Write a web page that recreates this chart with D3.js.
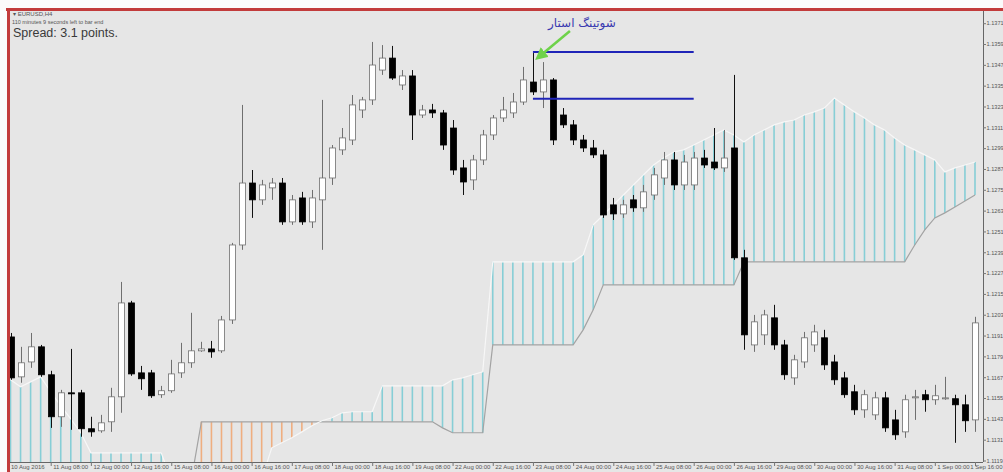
<!DOCTYPE html>
<html>
<head>
<meta charset="utf-8">
<script src="https://cdn.jsdelivr.net/npm/d3@7/dist/d3.min.js"></script>
<style>
  body { margin: 0; background: #fbfbfb; }
  svg { display: block; }
</style>
</head>
<body>
<svg id="chart" width="1003" height="472"></svg>
<script>
// EURUSD H4, 10 Aug - 1 Sep 2016, one entry per bar (97 bars)
const opens  = [1.11902,1.11672,1.11758,1.11845,1.11684,1.11442,1.11580,1.11580,1.11373,1.11361,1.11413,1.11557,1.12098,1.11695,1.11695,1.11569,1.11592,1.11695,1.11753,1.11822,1.11833,1.11822,1.12000,1.12432,1.12789,1.12692,1.12761,1.12789,1.12565,1.12703,1.12565,1.12692,1.12818,1.12980,1.13037,1.13210,1.13268,1.13440,1.13509,1.13354,1.13406,1.13181,1.13210,1.13193,1.13106,1.12876,1.12807,1.12922,1.13066,1.13164,1.13193,1.13256,1.13371,1.13314,1.13383,1.13181,1.13124,1.13037,1.12991,1.12951,1.12663,1.12611,1.12692,1.12646,1.12720,1.12818,1.12922,1.12778,1.12778,1.12933,1.12910,1.12876,1.12991,1.12358,1.11856,1.11914,1.12012,1.11856,1.11666,1.11758,1.11856,1.11897,1.11758,1.11666,1.11586,1.11482,1.11453,1.11551,1.11424,1.11355,1.11551,1.11569,1.11540,1.11546,1.11546,1.11511,1.11424];
const highs  = [1.11925,1.11845,1.11925,1.11856,1.11707,1.11597,1.11833,1.11597,1.11442,1.11453,1.11609,1.12219,1.12110,1.11735,1.11712,1.11620,1.11770,1.11868,1.12041,1.11874,1.11879,1.12023,1.12444,1.13239,1.12864,1.12807,1.12818,1.12818,1.12720,1.12738,1.12749,1.13268,1.13008,1.13106,1.13296,1.13285,1.13602,1.13584,1.13579,1.13440,1.13440,1.13239,1.13245,1.13210,1.13152,1.12922,1.12951,1.13095,1.13181,1.13285,1.13308,1.13458,1.13538,1.13486,1.13394,1.13221,1.13152,1.13066,1.13037,1.12980,1.12703,1.12692,1.12720,1.12778,1.12876,1.12968,1.12968,1.12951,1.12968,1.12980,1.13106,1.13095,1.13412,1.12404,1.12029,1.12058,1.12087,1.11885,1.11799,1.11931,1.11972,1.11943,1.11799,1.11701,1.11626,1.11597,1.11586,1.11586,1.11482,1.11569,1.11597,1.11597,1.11626,1.11672,1.11569,1.11569,1.12018];
const lows   = [1.11655,1.11638,1.11724,1.11672,1.11378,1.11384,1.11367,1.11327,1.11327,1.11350,1.11355,1.11465,1.11678,1.11597,1.11551,1.11551,1.11580,1.11666,1.11724,1.11816,1.11782,1.11810,1.11977,1.12404,1.12588,1.12663,1.12692,1.12548,1.12548,1.12548,1.12530,1.12404,1.12778,1.12951,1.13008,1.13164,1.13239,1.13412,1.13383,1.13325,1.13037,1.13164,1.13164,1.12980,1.12836,1.12720,1.12749,1.12893,1.13037,1.13141,1.13164,1.13239,1.13296,1.13221,1.13008,1.13106,1.13008,1.12968,1.12933,1.12588,1.12576,1.12588,1.12623,1.12623,1.12692,1.12778,1.12749,1.12749,1.12749,1.12876,1.12864,1.12853,1.12346,1.11828,1.11816,1.11856,1.11828,1.11655,1.11626,1.11724,1.11816,1.11712,1.11626,1.11551,1.11453,1.11436,1.11424,1.11355,1.11309,1.11321,1.11424,1.11471,1.11511,1.11540,1.11292,1.11355,1.11355];
const closes = [1.11666,1.11753,1.11845,1.11684,1.11442,1.11580,1.11574,1.11373,1.11355,1.11407,1.11557,1.12098,1.11689,1.11661,1.11563,1.11592,1.11689,1.11753,1.11822,1.11833,1.11816,1.12000,1.12432,1.12789,1.12692,1.12778,1.12789,1.12565,1.12692,1.12565,1.12703,1.12818,1.12991,1.13049,1.13239,1.13268,1.13469,1.13509,1.13394,1.13406,1.13181,1.13210,1.13193,1.13008,1.12864,1.12795,1.12922,1.13066,1.13164,1.13210,1.13256,1.13383,1.13314,1.13383,1.13037,1.13124,1.13037,1.12991,1.12951,1.12605,1.12611,1.12663,1.12646,1.12738,1.12836,1.12922,1.12778,1.12910,1.12933,1.12893,1.12876,1.12933,1.12358,1.11914,1.11989,1.12029,1.11856,1.11684,1.11770,1.11897,1.11931,1.11741,1.11655,1.11569,1.11482,1.11569,1.11551,1.11378,1.11338,1.11540,1.11557,1.11540,1.11563,1.11551,1.11511,1.11419,1.11983];

// Ichimoku cloud, Senkou Span A and B at each bar
const spanA = [1.11655,1.11615,1.11643,1.11672,1.11586,1.11505,1.11430,1.11350,1.11234,1.11234,1.11234,1.11234,1.11234,1.11234,1.11234,1.11234,1.11079,1.11079,1.11079,1.11079,1.11079,1.11079,1.11079,1.11079,1.11079,1.11079,1.11263,1.11292,1.11321,1.11355,1.11390,1.11419,1.11436,1.11465,1.11471,1.11471,1.11471,1.11620,1.11620,1.11620,1.11620,1.11620,1.11620,1.11620,1.11655,1.11666,1.11684,1.11701,1.12335,1.12335,1.12335,1.12335,1.12335,1.12335,1.12335,1.12335,1.12335,1.12375,1.12548,1.12605,1.12663,1.12720,1.12778,1.12836,1.12893,1.12933,1.12968,1.12980,1.13008,1.13037,1.13066,1.13095,1.13066,1.13026,1.13066,1.13095,1.13124,1.13141,1.13152,1.13181,1.13199,1.13221,1.13279,1.13239,1.13199,1.13164,1.13124,1.13095,1.13049,1.13008,1.12980,1.12951,1.12922,1.12853,1.12876,1.12893,1.12910];
const spanB = [1.11079,1.11079,1.11079,1.11079,1.11079,1.11079,1.11079,1.11079,1.11079,1.11079,1.11079,1.11079,1.11079,1.11079,1.11079,1.11079,1.11079,1.11079,1.11079,1.11413,1.11413,1.11413,1.11413,1.11413,1.11413,1.11413,1.11413,1.11413,1.11413,1.11413,1.11413,1.11413,1.11413,1.11413,1.11413,1.11413,1.11413,1.11413,1.11413,1.11413,1.11413,1.11413,1.11413,1.11378,1.11350,1.11350,1.11350,1.11350,1.11856,1.11856,1.11856,1.11856,1.11856,1.11856,1.11856,1.11856,1.11856,1.11943,1.12058,1.12202,1.12202,1.12202,1.12202,1.12202,1.12202,1.12202,1.12202,1.12202,1.12202,1.12202,1.12202,1.12202,1.12202,1.12335,1.12335,1.12335,1.12335,1.12335,1.12335,1.12335,1.12335,1.12335,1.12335,1.12335,1.12335,1.12335,1.12335,1.12335,1.12335,1.12335,1.12432,1.12519,1.12588,1.12617,1.12651,1.12686,1.12720];

// time axis: first label at left edge, then one every 4 bars starting at bar 4
const firstLabel = "10 Aug 2016";
const timeLabels = ["11 Aug 08:00","12 Aug 00:00","12 Aug 16:00","15 Aug 08:00","16 Aug 00:00","16 Aug 16:00","17 Aug 08:00","18 Aug 00:00","18 Aug 16:00","19 Aug 08:00","22 Aug 00:00","22 Aug 16:00","23 Aug 08:00","24 Aug 00:00","24 Aug 16:00","25 Aug 08:00","26 Aug 00:00","26 Aug 16:00","29 Aug 08:00","30 Aug 00:00","30 Aug 16:00","31 Aug 08:00","1 Sep 00:00","1 Sep 16:00"];
const priceTicks = [1.13710,1.13590,1.13470,1.13350,1.13230,1.13110,1.12990,1.12870,1.12750,1.12630,1.12510,1.12390,1.12270,1.12150,1.12030,1.11910,1.11790,1.11670,1.11550,1.11430,1.11310,1.11190];

// shooting star levels (high and body) drawn from the star bar
const starBar = 52, levelsEnd = 68;
const levels = [1.13544, 1.13274];
const starLabel = "شوتینگ استار";

const W = 1003, H = 472;
const plot = {left: 10, right: 983, top: 11, bottom: 462};

const svg = d3.select("#chart");

const x = d3.scaleLinear().domain([0, 96]).range([10.5, 975]);
const y = d3.scaleLinear().domain([1.11190, 1.13710]).range([460.5, 23.2]);

// backgrounds and frame
svg.append("rect").attr("x", 8).attr("y", 9).attr("width", W - 8).attr("height", H - 9).attr("fill", "#e6e6e6");

svg.append("clipPath").attr("id", "clip")
  .append("rect")
    .attr("x", plot.left).attr("y", plot.top)
    .attr("width", plot.right - plot.left).attr("height", plot.bottom - plot.top);

const g = svg.append("g").attr("clip-path", "url(#clip)");

let bars = d3.range(opens.length);

// cloud hatches
g.selectAll("line.hatch")
  .data(bars)
  .enter()
  .append("line")
    .attr("class", "hatch")
    .attr("x1", d => x(d)).attr("x2", d => x(d))
    .attr("y1", d => y(spanA[d]))
    .attr("y2", d => y(spanB[d]))
    .attr("stroke", d => spanA[d] >= spanB[d] ? "#86ced6" : "#efae80")
    .attr("stroke-width", 1.6);

let lineB = d3.line().x((d, i) => x(i)).y(d => y(d));
g.append("path").attr("d", lineB(spanB)).attr("fill", "none").attr("stroke", "#a3a3a3").attr("stroke-width", 1.2);
g.append("path").attr("d", lineB(spanA)).attr("fill", "none").attr("stroke", "#f7f7f7").attr("stroke-width", 1.2);

// candles
let candle = g.selectAll("g.candle")
  .data(bars)
  .enter()
  .append("g")
    .attr("class", "candle");

candle.append("line")
  .attr("x1", d => Math.round(x(d)) + 0.5).attr("x2", d => Math.round(x(d)) + 0.5)
  .attr("y1", d => y(highs[d])).attr("y2", d => y(lows[d]))
  .attr("stroke", d => closes[d] >= opens[d] ? "#6f6f6f" : "#111")
  .attr("stroke-width", 1);

candle.append("rect")
  .attr("x", d => Math.round(x(d)) - 2.5)
  .attr("width", 6)
  .attr("y", d => y(Math.max(opens[d], closes[d])))
  .attr("height", d => Math.max(1, Math.abs(y(opens[d]) - y(closes[d]))))
  .attr("fill", d => closes[d] >= opens[d] ? "#ffffff" : "#000000")
  .attr("stroke", d => closes[d] >= opens[d] ? "#6f6f6f" : "#000000")
  .attr("stroke-width", 0.8);

// horizontal levels
g.selectAll("line.level")
  .data(levels)
  .enter()
  .append("line")
    .attr("class", "level")
    .attr("x1", x(starBar)).attr("x2", x(levelsEnd))
    .attr("y1", d => y(d)).attr("y2", d => y(d))
    .attr("stroke", "#1f24b8")
    .attr("stroke-width", 2);

// annotation
let ax = x(starBar), ay = y(highs[starBar]);
svg.append("defs").append("marker")
  .attr("id", "arr").attr("viewBox", "0 0 10 10").attr("refX", 5).attr("refY", 5)
  .attr("markerWidth", 5).attr("markerHeight", 5).attr("orient", "auto")
  .append("path").attr("d", "M0,0 L10,5 L0,10 z").attr("fill", "#6ed24a");
svg.append("line")
  .attr("x1", ax + 37).attr("y1", ay - 22)
  .attr("x2", ax + 7).attr("y2", ay + 3)
  .attr("stroke", "#6ed24a").attr("stroke-width", 2.5)
  .attr("marker-end", "url(#arr)");
svg.append("text")
  .attr("x", ax + 49).attr("y", 27)
  .attr("text-anchor", "middle")
  .style("font-family", "DejaVu Sans")
  .style("font-size", "12px")
  .attr("fill", "#3a3ab0")
  .text(starLabel);

// axes
let axisY = d3.axisRight(y).tickValues(priceTicks).tickFormat(d3.format(".4f")).tickSize(3);
let gy = svg.append("g").attr("transform", `translate(${plot.right},0)`).call(axisY);
gy.select(".domain").attr("d", `M0.5,${plot.top}V${plot.bottom}`).attr("stroke", "#666");
gy.selectAll(".tick line").attr("stroke", "#777");
gy.selectAll(".tick text").attr("x", 3.5).attr("fill", "#555")
  .style("font-family", "Liberation Sans").style("font-size", "5.6px");

let tickBars = timeLabels.map((d, i) => 4 + 4 * i);
let axisX = d3.axisBottom(x).tickValues(tickBars).tickFormat((d, i) => timeLabels[i]).tickSize(4);
let gx = svg.append("g").attr("transform", `translate(0,${plot.bottom})`).call(axisX);
gx.select(".domain").attr("d", `M${plot.left},0.5H${plot.right}`).attr("stroke", "#666");
gx.selectAll(".tick line").attr("stroke", "#777");
gx.selectAll(".tick text").attr("y", 3).attr("x", 2).attr("dy", "0.71em")
  .attr("text-anchor", "start").attr("fill", "#555")
  .style("font-family", "Liberation Sans").style("font-size", "6px");
// last label kept inside the picture
gx.selectAll(".tick text").filter((d, i) => i === timeLabels.length - 1)
  .attr("text-anchor", "end").attr("x", W - 1 - x(tickBars[tickBars.length - 1]));
gx.append("text").attr("x", 11).attr("y", 3).attr("dy", "0.71em")
  .attr("text-anchor", "start")
  .attr("fill", "#555").style("font-family", "Liberation Sans").style("font-size", "6px")
  .text(firstLabel);

// header texts
svg.append("text").attr("x", 13).attr("y", 16).attr("fill", "#555")
  .style("font-family", "Liberation Sans").style("font-size", "6px").text("▾ EURUSD,H4");
svg.append("text").attr("x", 12).attr("y", 24).attr("fill", "#555")
  .style("font-family", "Liberation Sans").style("font-size", "5.5px").text("110 minutes 9 seconds left to bar end");
svg.append("text").attr("x", 13).attr("y", 37).attr("fill", "#3a3a3a")
  .style("font-family", "Liberation Sans").style("font-size", "12.5px").text("Spread: 3.1 points.");

// red frame
svg.append("line").attr("x1", 6).attr("x2", W).attr("y1", 9.5).attr("y2", 9.5).attr("stroke", "#c23b3b").attr("stroke-width", 3);
svg.append("line").attr("x1", 8.5).attr("x2", 8.5).attr("y1", 8).attr("y2", H).attr("stroke", "#c23b3b").attr("stroke-width", 3);
</script>
</body>
</html>
